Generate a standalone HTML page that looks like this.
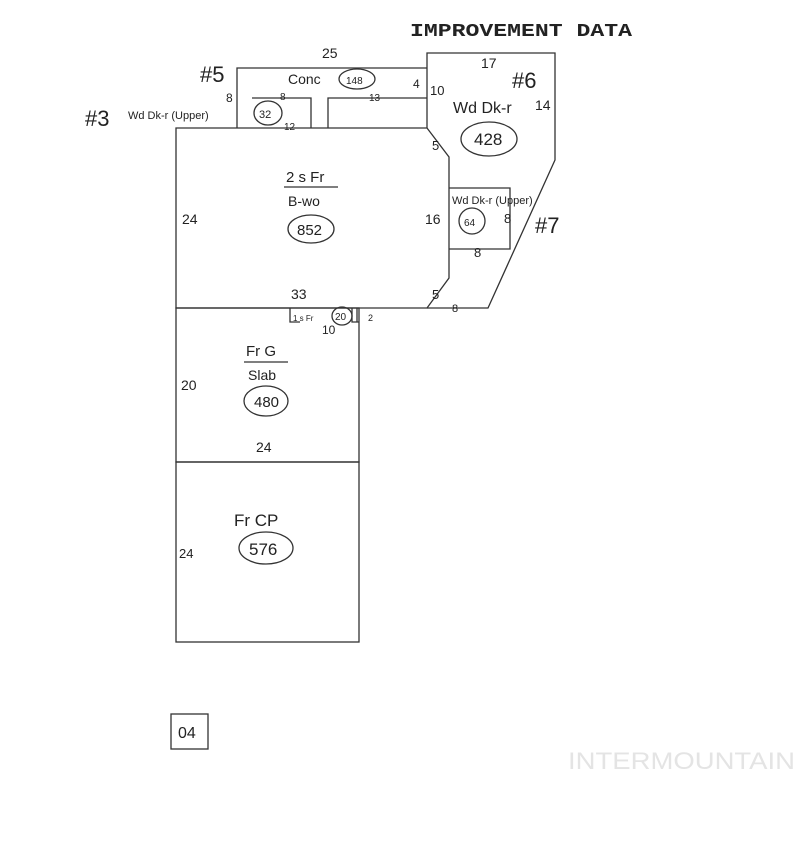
<!DOCTYPE html>
<html><head><meta charset="utf-8"><style>
html,body{margin:0;padding:0;background:#fff;width:800px;height:864px;overflow:hidden}
svg{display:block}
text{font-family:"Liberation Sans",sans-serif;fill:#222}
</style></head><body>
<svg width="800" height="864" viewBox="0 0 800 864" xmlns="http://www.w3.org/2000/svg">
<g stroke="#333" stroke-width="1.3" fill="none">
<path d="M176,128 L427,128 L449,157 L449,278 L427,308 L176,308 Z"/>
<path d="M237,128 L237,68 L427,68"/>
<path d="M328,128 L328,98 L427,98"/>
<path d="M252,98 L311,98 L311,128"/>
<path d="M427,128 L427,53 L555,53 L555,160 L488,308 L427,308"/>
<path d="M449,188 L510,188 L510,249 L449,249"/>
<rect x="176" y="308" width="183" height="154"/>
<rect x="176" y="462" width="183" height="180"/>
<path d="M290,308 L290,322 L300,322"/>
<path d="M352,308 L352,322 L359,322 M357,308 L357,322"/>
<line x1="284" y1="187" x2="338" y2="187"/>
<line x1="244" y1="362" x2="288" y2="362"/>
<ellipse cx="357" cy="79" rx="18" ry="10"/>
<ellipse cx="268" cy="113" rx="14" ry="12"/>
<ellipse cx="489" cy="139" rx="28" ry="17"/>
<ellipse cx="311" cy="229" rx="23" ry="14"/>
<ellipse cx="472" cy="221" rx="13" ry="13"/>
<ellipse cx="342" cy="316" rx="10" ry="9"/>
<ellipse cx="266" cy="401" rx="22" ry="15"/>
<ellipse cx="266" cy="548" rx="27" ry="16"/>
<rect x="171" y="714" width="37" height="35"/>
</g>
<text x="410" y="36" style="font-family:'Liberation Mono',monospace;font-weight:bold" font-size="18" textLength="222" lengthAdjust="spacingAndGlyphs">IMPROVEMENT DATA</text>
<text x="322" y="58" font-size="14">25</text>
<text x="200" y="82" font-size="22">#5</text>
<text x="288" y="84" font-size="14">Conc</text>
<text x="346" y="84" font-size="10">148</text>
<text x="413" y="88" font-size="12">4</text>
<text x="430" y="95" font-size="13">10</text>
<text x="369" y="101" font-size="10">13</text>
<text x="481" y="68" font-size="14">17</text>
<text x="512" y="88" font-size="22">#6</text>
<text x="453" y="113" font-size="16">Wd Dk-r</text>
<text x="535" y="110" font-size="14">14</text>
<text x="474" y="145" font-size="17">428</text>
<text x="85" y="126" font-size="22">#3</text>
<text x="128" y="119" font-size="11">Wd Dk-r (Upper)</text>
<text x="226" y="102" font-size="12">8</text>
<text x="280" y="100" font-size="10">8</text>
<text x="259" y="118" font-size="11">32</text>
<text x="284" y="130" font-size="10">12</text>
<text x="432" y="150" font-size="13">5</text>
<text x="286" y="182" font-size="15">2 s Fr</text>
<text x="288" y="206" font-size="14">B-wo</text>
<text x="297" y="235" font-size="15">852</text>
<text x="182" y="224" font-size="14">24</text>
<text x="425" y="224" font-size="14">16</text>
<text x="452" y="204" font-size="11">Wd Dk-r (Upper)</text>
<text x="464" y="226" font-size="10">64</text>
<text x="504" y="223" font-size="13">8</text>
<text x="535" y="233" font-size="22">#7</text>
<text x="474" y="257" font-size="13">8</text>
<text x="291" y="299" font-size="14">33</text>
<text x="432" y="299" font-size="13">5</text>
<text x="452" y="312" font-size="11">8</text>
<text x="293" y="321" font-size="8">1 s Fr</text>
<text x="335" y="320" font-size="10">20</text>
<text x="368" y="321" font-size="9">2</text>
<text x="322" y="334" font-size="12">10</text>
<text x="246" y="356" font-size="15">Fr G</text>
<text x="248" y="380" font-size="14">Slab</text>
<text x="254" y="407" font-size="15">480</text>
<text x="181" y="390" font-size="14">20</text>
<text x="256" y="452" font-size="14">24</text>
<text x="234" y="526" font-size="17">Fr CP</text>
<text x="249" y="555" font-size="17">576</text>
<text x="179" y="558" font-size="13">24</text>
<text x="178" y="738" font-size="16">04</text>
<text x="568" y="769" font-size="24" textLength="227" lengthAdjust="spacingAndGlyphs" style="fill:#e4e4e4">INTERMOUNTAIN</text>
</svg>
</body></html>
